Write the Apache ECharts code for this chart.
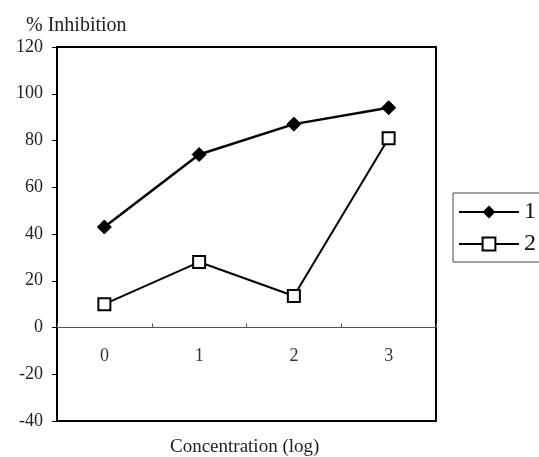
<!DOCTYPE html>
<html>
<head>
<meta charset="utf-8">
<script src="https://cdn.jsdelivr.net/npm/echarts@6/dist/echarts.min.js"></script>
<style>html,body{margin:0;padding:0;background:#fff}#c{width:539px;height:457px}</style>
</head>
<body>
<div id="c"></div>
<script>
var categories = ['0', '1', '2', '3'];
var series1 = [43, 74, 87, 94];
var series2 = [10, 28, 13.5, 81];
var seriesNames = ['1', '2'];
var yTitle = '% Inhibition';
var xTitle = 'Concentration (log)';

var FONT = '"Liberation Serif", "DejaVu Serif", serif';
var yMin = -40, yMax = 120;
var gridTop = 47, gridBottom = 36, H = 457;
var plotH = H - gridTop - gridBottom;
var zeroOffset = plotH * (0 - yMin) / (yMax - yMin);

var chart = echarts.init(document.getElementById('c'));
chart.setOption({
  backgroundColor: '#fff',
  animation: false,
  grid: { left: 57, top: gridTop, right: 103, bottom: gridBottom, show: true, borderColor: '#000', borderWidth: 2, backgroundColor: 'transparent' },
  legend: {
    orient: 'vertical', left: 453, top: 193,
    borderColor: '#444', borderWidth: 1, padding: [7, 8, 6, 5],
    itemWidth: 60, itemHeight: 16, itemGap: 8,
    textStyle: { fontFamily: FONT, fontSize: 24, color: '#111' },
    data: seriesNames
  },
  xAxis: {
    type: 'category', data: categories, boundaryGap: true,
    offset: -zeroOffset,
    axisLine: { onZero: false, lineStyle: { color: '#555', width: 1 } },
    axisTick: { show: true, inside: true, length: 4, lineStyle: { color: '#555' } },
    axisLabel: { margin: 20, fontFamily: FONT, fontSize: 18, color: '#333' },
    splitLine: { show: false }
  },
  yAxis: {
    type: 'value', min: yMin, max: yMax, interval: 20,
    axisLine: { show: true, lineStyle: { color: '#000', width: 2 } },
    axisTick: { show: true, length: 5, lineStyle: { color: '#000' } },
    axisLabel: { margin: 14, fontFamily: FONT, fontSize: 18, color: '#222' },
    splitLine: { show: false }
  },
  graphic: [
    { type: 'text', x: 26, y: 26, style: { text: yTitle, fontFamily: FONT, fontSize: 20, fill: '#222', verticalAlign: 'middle' } },
    { type: 'text', x: 170, y: 447, style: { text: xTitle, fontFamily: FONT, fontSize: 19, fill: '#222', verticalAlign: 'middle' } }
  ],
  series: [
    { name: seriesNames[0], type: 'line', data: series1, symbol: 'diamond', symbolSize: 14,
      lineStyle: { color: '#000', width: 2.5 }, itemStyle: { color: '#000', borderColor: '#000' } },
    { name: seriesNames[1], type: 'line', data: series2, symbol: 'rect', symbolSize: 12,
      lineStyle: { color: '#000', width: 2 }, itemStyle: { color: '#fff', borderColor: '#000', borderWidth: 2 } }
  ]
});
</script>
</body>
</html>
